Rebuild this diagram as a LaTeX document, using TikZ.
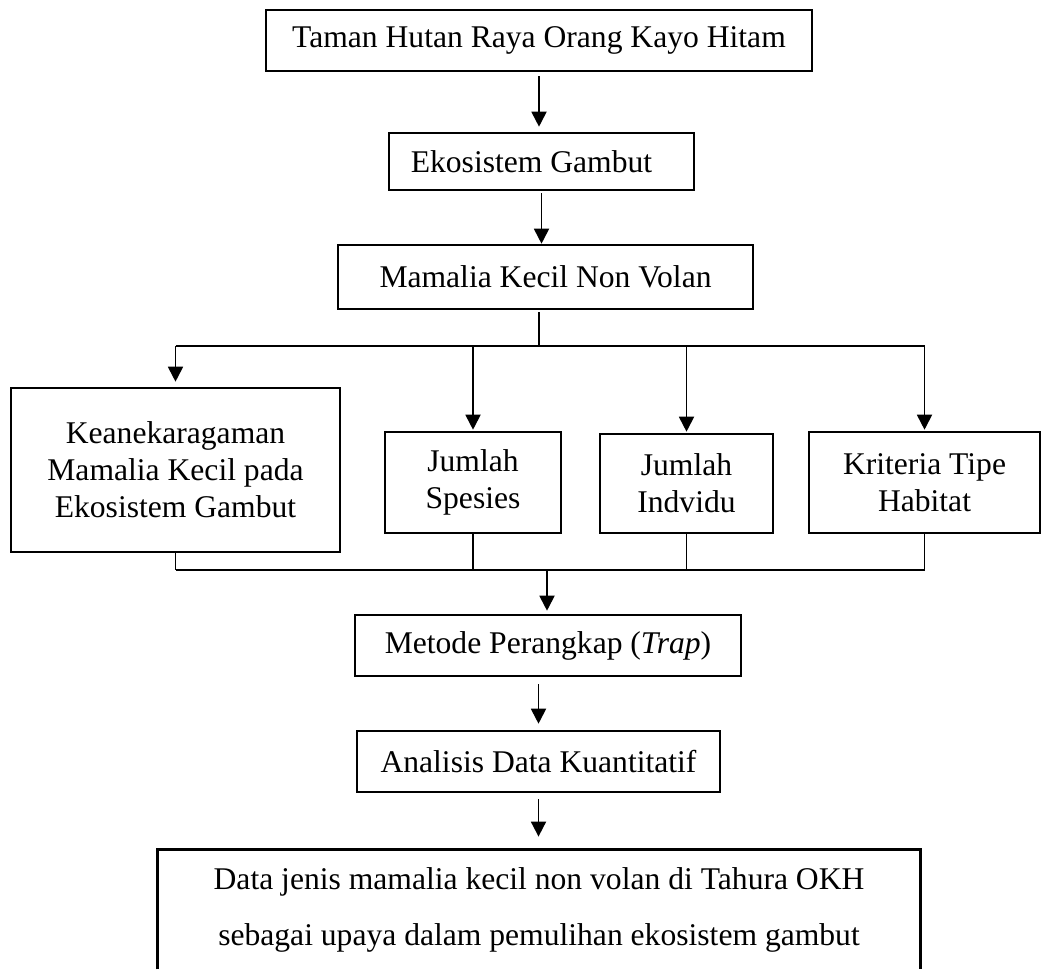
\documentclass[tikz,border=0pt]{standalone}
\usepackage{fontspec}
\setmainfont{Liberation Serif}
\usetikzlibrary{arrows.meta,calc,positioning}

\begin{document}
\begin{tikzpicture}[x=0.5pt,y=-0.5pt,
  box/.style={draw, line width=1.3pt, align=center, inner sep=0pt, font=\fontsize{15.8}{18.5}\selectfont},
  arr/.style={-{Triangle[length=7.5pt,width=7.5pt]}, line width=0.9pt},
  link/.style={line width=0.9pt}]
  \useasboundingbox (0,0) rectangle (1042,969);

  % Top chain
  \node[box, minimum width=273pt, minimum height=30.5pt] (taman) at (539,40.5) {Taman Hutan Raya Orang Kayo Hitam};
  \node[box, minimum width=152.5pt, minimum height=28.5pt] (eko) at (541.5,161.5) {Ekosistem Gambut\hspace{10pt}};
  \node[box, minimum width=207.5pt, minimum height=32pt] (mamalia) at (545.5,277) {Mamalia Kecil Non Volan};

  % Middle row
  \node[box, minimum width=164.5pt, minimum height=82pt] (keane) at (175.5,470) {Keanekaragaman\\Mamalia Kecil pada\\Ekosistem Gambut};
  \node[box, minimum width=88pt, minimum height=50.5pt] (spesies) at (473,482.5) {Jumlah\\Spesies};
  \node[box, minimum width=86.5pt, minimum height=49.5pt] (indvidu) at (686.5,483.5) {Jumlah\\Indvidu};
  \node[box, minimum width=115.5pt, minimum height=50.5pt] (kriteria) at (924.5,482.5) {Kriteria Tipe\\Habitat};

  % Lower chain
  \node[box, minimum width=193pt, minimum height=30.5pt] (metode) at (548,645.5) {Metode Perangkap (\textit{Trap})};
  \node[box, minimum width=181.5pt, minimum height=30.5pt] (analisis) at (538.5,761.5) {Analisis Data Kuantitatif};
  \node[align=center, inner sep=0pt, minimum width=381pt, minimum height=59.5pt, font=\fontsize{15.8}{18.5}\selectfont] (data) at (539,909.5)
    {Data jenis mamalia kecil non volan di Tahura OKH\\[9.5pt]sebagai upaya dalam pemulihan ekosistem gambut};
  % open at the bottom
  \draw[line width=1.3pt] (data.south west) |- (data.north) -| (data.south east);

  \coordinate (split) at (539,346);
  \coordinate (join) at (547,570);

  % Arrows top
  \draw[arr, shorten <=2pt, shorten >=2.5pt] (taman.south) -- (taman.south |- eko.north);
  \draw[arr, shorten <=1pt] (eko.south) -- (eko.south |- mamalia.north);

  % Branch to the four boxes
  \draw[link, shorten <=1pt] (mamalia.south -| split) -- (split);
  \draw[link] (keane.north |- split) -- (kriteria.north |- split);
  \draw[arr, shorten >=2.5pt] (keane.north |- split) -- (keane.north);
  \foreach \n in {spesies,indvidu,kriteria}
    \draw[arr, shorten >=0.5pt] (\n.north |- split) -- (\n.north);

  % Join below the four boxes
  \foreach \n in {keane,spesies,indvidu,kriteria}
    \draw[link] (\n.south) -- (\n.south |- join);
  \draw[link] (keane.south |- join) -- (kriteria.south |- join);
  \draw[arr, shorten >=1.5pt] (join) -- (join |- metode.north);

  % Arrows bottom
  \draw[arr, shorten <=3.5pt, shorten >=3pt] (analisis.north |- metode.south) -- (analisis.north);
  \draw[arr, shorten <=3pt, shorten >=6.5pt] (analisis.south) -- (analisis.south |- data.north);
\end{tikzpicture}
\end{document}
